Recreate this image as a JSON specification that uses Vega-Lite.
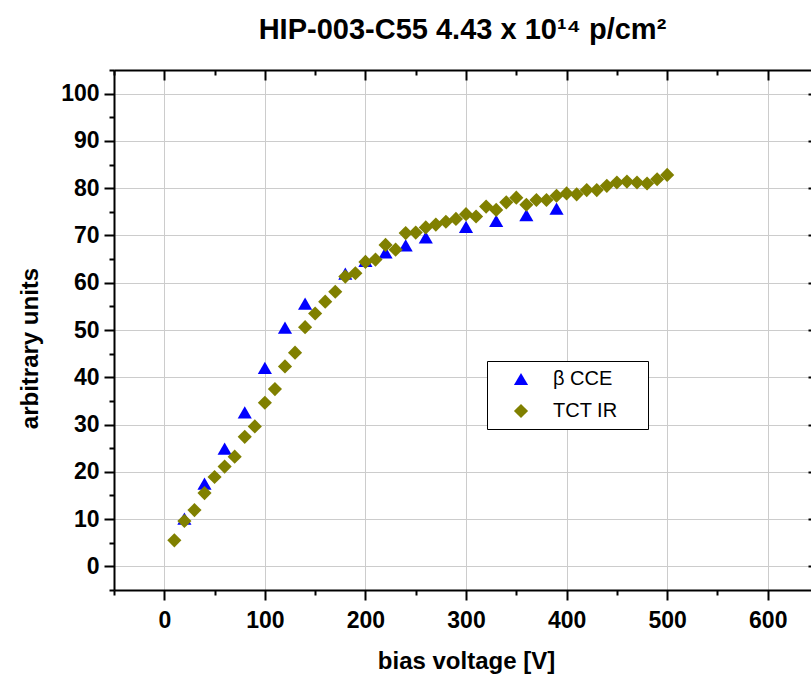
{
  "$schema": "https://vega.github.io/schema/vega-lite/v6.json",
  "autosize": {"type": "none"},
  "width": 697,
  "height": 520,
  "padding": {"left": 114, "top": 70, "right": 0, "bottom": 87},
  "background": "white",
  "config": {
    "font": "Liberation Sans",
    "view": {"stroke": null},
    "axis": {
      "domainColor": "black", "domainWidth": 2, "tickColor": "black", "tickWidth": 2,
      "gridColor": "#cccccc", "gridWidth": 1,
      "labelFont": "Liberation Sans", "labelFontSize": 23, "labelFontWeight": "bold", "labelColor": "black",
      "titleFont": "Liberation Sans", "titleFontSize": 24, "titleFontWeight": "bold", "titleColor": "black"
    }
  },
  "title": {
    "text": "HIP-003-C55 4.43 x 10¹⁴ p/cm²",
    "font": "Liberation Sans", "fontSize": 29, "fontWeight": "bold", "color": "black",
    "anchor": "middle", "offset": 24
  },
  "data": {
    "values": [
      {"series": "β CCE", "V": 20, "val": 10.1},
      {"series": "β CCE", "V": 40, "val": 17.5},
      {"series": "β CCE", "V": 60, "val": 24.9},
      {"series": "β CCE", "V": 80, "val": 32.6},
      {"series": "β CCE", "V": 100, "val": 42.0},
      {"series": "β CCE", "V": 120, "val": 50.5},
      {"series": "β CCE", "V": 140, "val": 55.6},
      {"series": "β CCE", "V": 180, "val": 61.9},
      {"series": "β CCE", "V": 200, "val": 64.6},
      {"series": "β CCE", "V": 220, "val": 66.4},
      {"series": "β CCE", "V": 240, "val": 67.9},
      {"series": "β CCE", "V": 260, "val": 69.6},
      {"series": "β CCE", "V": 300, "val": 71.8},
      {"series": "β CCE", "V": 330, "val": 73.1},
      {"series": "β CCE", "V": 360, "val": 74.3},
      {"series": "β CCE", "V": 390, "val": 75.7},
      {"series": "TCT IR", "V": 10, "val": 5.5},
      {"series": "TCT IR", "V": 20, "val": 9.6},
      {"series": "TCT IR", "V": 30, "val": 11.9},
      {"series": "TCT IR", "V": 40, "val": 15.5},
      {"series": "TCT IR", "V": 50, "val": 18.9},
      {"series": "TCT IR", "V": 60, "val": 21.1},
      {"series": "TCT IR", "V": 70, "val": 23.2},
      {"series": "TCT IR", "V": 80, "val": 27.4},
      {"series": "TCT IR", "V": 90, "val": 29.6},
      {"series": "TCT IR", "V": 100, "val": 34.6},
      {"series": "TCT IR", "V": 110, "val": 37.5},
      {"series": "TCT IR", "V": 120, "val": 42.3},
      {"series": "TCT IR", "V": 130, "val": 45.2},
      {"series": "TCT IR", "V": 140, "val": 50.6},
      {"series": "TCT IR", "V": 150, "val": 53.5},
      {"series": "TCT IR", "V": 160, "val": 56.0},
      {"series": "TCT IR", "V": 170, "val": 58.1},
      {"series": "TCT IR", "V": 180, "val": 61.3},
      {"series": "TCT IR", "V": 190, "val": 62.0},
      {"series": "TCT IR", "V": 200, "val": 64.4},
      {"series": "TCT IR", "V": 210, "val": 64.9},
      {"series": "TCT IR", "V": 220, "val": 68.0},
      {"series": "TCT IR", "V": 230, "val": 67.0},
      {"series": "TCT IR", "V": 240, "val": 70.5},
      {"series": "TCT IR", "V": 250, "val": 70.6},
      {"series": "TCT IR", "V": 260, "val": 71.7},
      {"series": "TCT IR", "V": 270, "val": 72.3},
      {"series": "TCT IR", "V": 280, "val": 72.9},
      {"series": "TCT IR", "V": 290, "val": 73.5},
      {"series": "TCT IR", "V": 300, "val": 74.5},
      {"series": "TCT IR", "V": 310, "val": 74.0},
      {"series": "TCT IR", "V": 320, "val": 76.1},
      {"series": "TCT IR", "V": 330, "val": 75.4},
      {"series": "TCT IR", "V": 340, "val": 77.0},
      {"series": "TCT IR", "V": 350, "val": 78.0},
      {"series": "TCT IR", "V": 360, "val": 76.5},
      {"series": "TCT IR", "V": 370, "val": 77.5},
      {"series": "TCT IR", "V": 380, "val": 77.5},
      {"series": "TCT IR", "V": 390, "val": 78.4},
      {"series": "TCT IR", "V": 400, "val": 78.9},
      {"series": "TCT IR", "V": 410, "val": 78.7},
      {"series": "TCT IR", "V": 420, "val": 79.6},
      {"series": "TCT IR", "V": 430, "val": 79.6},
      {"series": "TCT IR", "V": 440, "val": 80.5},
      {"series": "TCT IR", "V": 450, "val": 81.2},
      {"series": "TCT IR", "V": 460, "val": 81.4},
      {"series": "TCT IR", "V": 470, "val": 81.2},
      {"series": "TCT IR", "V": 480, "val": 81.0},
      {"series": "TCT IR", "V": 490, "val": 81.9},
      {"series": "TCT IR", "V": 500, "val": 82.8}
    ]
  },
  "resolve": {"axis": {"x": "independent", "y": "independent"}},
  "layer": [
    {
      "transform": [{"filter": "datum.series === 'β CCE'"}],
      "mark": {"type": "point", "filled": true, "opacity": 1, "size": 200, "clip": true},
      "encoding": {
        "x": {
          "field": "V", "type": "quantitative",
          "scale": {"domain": [-50, 643], "nice": false, "zero": false},
          "axis": {
            "orient": "bottom", "title": "bias voltage [V]", "titleX": 352,
            "values": [-50, 0, 50, 100, 150, 200, 250, 300, 350, 400, 450, 500, 550, 600],
            "labelExpr": "datum.value % 100 === 0 ? datum.label : ''",
            "tickSize": {"condition": {"test": "datum.value % 100 === 0", "value": 10}, "value": 5},
            "gridOpacity": {"condition": {"test": "datum.value % 100 === 0", "value": 1}, "value": 0},
            "grid": true, "labelPadding": 9, "titlePadding": 17, "labelFlush": false
          }
        },
        "y": {
          "field": "val", "type": "quantitative",
          "scale": {"domain": [-5, 105], "nice": false, "zero": false},
          "axis": {
            "orient": "left", "title": "arbitrary units", "titleY": 278,
            "values": [-5, 0, 5, 10, 15, 20, 25, 30, 35, 40, 45, 50, 55, 60, 65, 70, 75, 80, 85, 90, 95, 100, 105],
            "labelExpr": "datum.value % 10 === 0 ? datum.label : ''",
            "tickSize": {"condition": {"test": "datum.value % 10 === 0", "value": 10}, "value": 5},
            "gridOpacity": {"condition": {"test": "datum.value % 10 === 0", "value": 1}, "value": 0},
            "grid": true, "labelPadding": 5, "titlePadding": 18, "labelFlush": false
          }
        },
        "color": {
          "field": "series", "type": "nominal",
          "scale": {"domain": ["β CCE", "TCT IR"], "range": ["#0000ff", "#808000"]},
          "legend": {
            "title": null, "orient": "none", "legendX": 373, "legendY": 291,
            "strokeColor": "black", "fillColor": "white", "padding": 8,
            "symbolOffset": 16, "symbolSize": 200, "symbolStrokeWidth": 0,
            "labelFont": "Liberation Sans", "labelFontSize": 20, "labelColor": "black",
            "labelOffset": 22, "rowPadding": 12,
            "labelExpr": "datum.label + '    \u200b'"
          }
        },
        "shape": {
          "field": "series", "type": "nominal",
          "scale": {"domain": ["β CCE", "TCT IR"], "range": ["triangle-up", "diamond"]}
        }
      }
    },
    {
      "transform": [{"filter": "datum.series === 'TCT IR'"}],
      "mark": {"type": "point", "filled": true, "opacity": 1, "size": 200, "clip": true},
      "encoding": {
        "x": {
          "field": "V", "type": "quantitative",
          "axis": {
            "orient": "top", "title": null, "labels": false, "grid": false, "domain": false,
            "offset": -10, "tickSize": 10,
            "values": [0, 100, 200, 300, 400, 500, 600]
          }
        },
        "y": {
          "field": "val", "type": "quantitative",
          "axis": {
            "orient": "right", "title": null, "labels": false, "grid": false, "domain": false,
            "offset": -3, "tickSize": 3,
            "values": [0, 10, 20, 30, 40, 50, 60, 70, 80, 90, 100]
          }
        },
        "color": {"field": "series", "type": "nominal"},
        "shape": {"field": "series", "type": "nominal"}
      }
    },
    {
      "data": {"values": []},
      "mark": {"type": "point"},
      "encoding": {
        "x": {
          "field": "V", "type": "quantitative",
          "axis": {
            "orient": "top", "title": null, "labels": false, "grid": false, "domain": false,
            "offset": -5, "tickSize": 5,
            "values": [-50, 50, 150, 250, 350, 450, 550]
          }
        }
      }
    },
    {
      "data": {"values": []},
      "mark": {"type": "point"},
      "encoding": {
        "x": {
          "field": "V", "type": "quantitative",
          "axis": {
            "orient": "top", "title": null, "labels": false, "grid": false, "domain": true,
            "ticks": false, "offset": 0
          }
        }
      }
    }
  ]
}
